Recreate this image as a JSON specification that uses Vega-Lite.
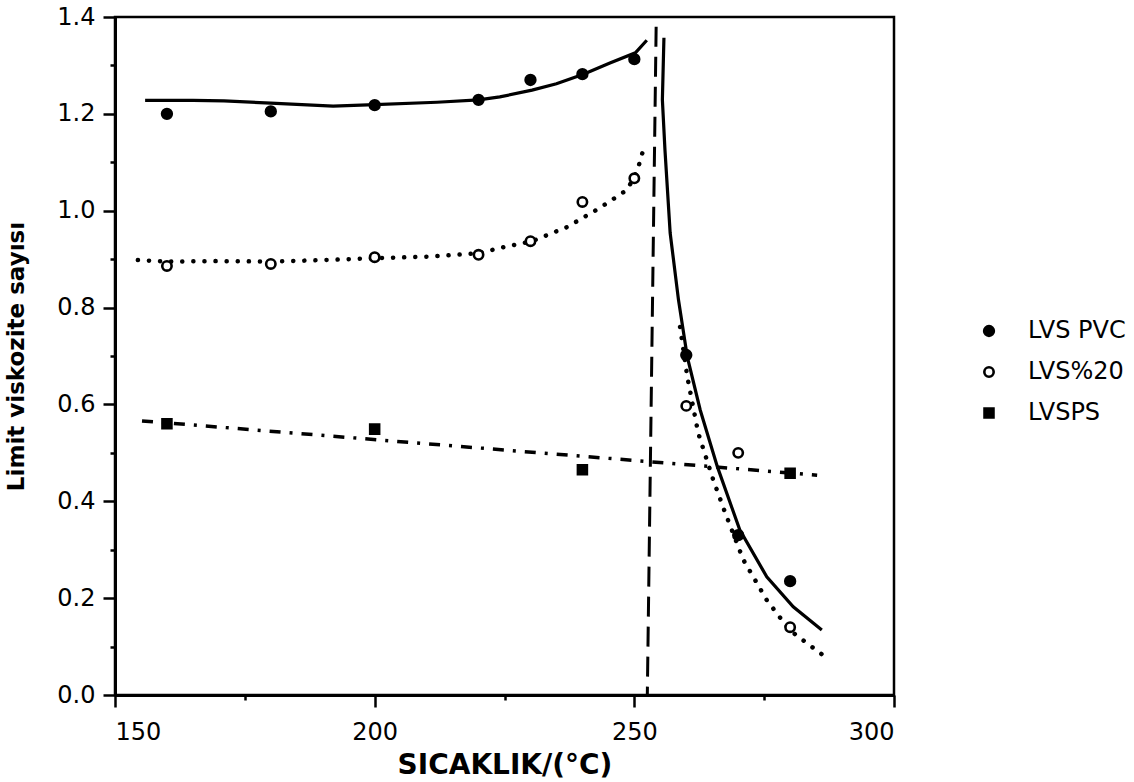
{
  "$schema": "https://vega.github.io/schema/vega-lite/v6.json",
  "width": 779,
  "height": 678,
  "autosize": {"type": "none"},
  "padding": {"left": 115, "top": 17, "right": 240, "bottom": 87},
  "background": "white",
  "config": {
    "font": "DejaVu Sans",
    "view": {"stroke": "black", "strokeWidth": 2.5},
    "axis": {
      "grid": false,
      "domainColor": "black",
      "domainWidth": 3,
      "tickColor": "black",
      "tickWidth": 2.5,
      "labelColor": "black",
      "titleColor": "black",
      "labelFont": "DejaVu Sans",
      "titleFont": "DejaVu Sans"
    }
  },
  "datasets": {
    "pts": [
      {"series": "LVS PVC", "x": 160, "y": 1.200},
      {"series": "LVS PVC", "x": 180, "y": 1.205},
      {"series": "LVS PVC", "x": 200, "y": 1.218},
      {"series": "LVS PVC", "x": 220, "y": 1.229},
      {"series": "LVS PVC", "x": 230, "y": 1.270},
      {"series": "LVS PVC", "x": 240, "y": 1.282},
      {"series": "LVS PVC", "x": 250, "y": 1.313},
      {"series": "LVS PVC", "x": 260, "y": 0.702},
      {"series": "LVS PVC", "x": 270, "y": 0.330},
      {"series": "LVS PVC", "x": 280, "y": 0.235},
      {"series": "LVS%20", "x": 160, "y": 0.886},
      {"series": "LVS%20", "x": 180, "y": 0.890},
      {"series": "LVS%20", "x": 200, "y": 0.904},
      {"series": "LVS%20", "x": 220, "y": 0.909},
      {"series": "LVS%20", "x": 230, "y": 0.937},
      {"series": "LVS%20", "x": 240, "y": 1.018},
      {"series": "LVS%20", "x": 250, "y": 1.067},
      {"series": "LVS%20", "x": 260, "y": 0.597},
      {"series": "LVS%20", "x": 270, "y": 0.500},
      {"series": "LVS%20", "x": 280, "y": 0.140},
      {"series": "LVSPS", "x": 160, "y": 0.560},
      {"series": "LVSPS", "x": 200, "y": 0.549},
      {"series": "LVSPS", "x": 240, "y": 0.465},
      {"series": "LVSPS", "x": 280, "y": 0.458}
    ],
    "curves": [
      {"series": "PVC", "seg": 1, "ord": 1, "x": 155.8, "y": 1.228},
      {"series": "PVC", "seg": 1, "ord": 2, "x": 165, "y": 1.228},
      {"series": "PVC", "seg": 1, "ord": 3, "x": 171, "y": 1.227},
      {"series": "PVC", "seg": 1, "ord": 4, "x": 180, "y": 1.222},
      {"series": "PVC", "seg": 1, "ord": 5, "x": 192, "y": 1.216},
      {"series": "PVC", "seg": 1, "ord": 6, "x": 200, "y": 1.219},
      {"series": "PVC", "seg": 1, "ord": 7, "x": 212, "y": 1.224},
      {"series": "PVC", "seg": 1, "ord": 8, "x": 220, "y": 1.229},
      {"series": "PVC", "seg": 1, "ord": 9, "x": 224.1, "y": 1.235},
      {"series": "PVC", "seg": 1, "ord": 10, "x": 230.3, "y": 1.249},
      {"series": "PVC", "seg": 1, "ord": 11, "x": 235, "y": 1.262},
      {"series": "PVC", "seg": 1, "ord": 12, "x": 240.2, "y": 1.282},
      {"series": "PVC", "seg": 1, "ord": 13, "x": 245.3, "y": 1.305},
      {"series": "PVC", "seg": 1, "ord": 14, "x": 250.2, "y": 1.326},
      {"series": "PVC", "seg": 1, "ord": 15, "x": 252.4, "y": 1.352},
      {"series": "PVC", "seg": 2, "ord": 1, "x": 255.7, "y": 1.357},
      {"series": "PVC", "seg": 2, "ord": 2, "x": 255.4, "y": 1.229},
      {"series": "PVC", "seg": 2, "ord": 3, "x": 255.9, "y": 1.125},
      {"series": "PVC", "seg": 2, "ord": 4, "x": 256.9, "y": 0.954},
      {"series": "PVC", "seg": 2, "ord": 5, "x": 258.5, "y": 0.816},
      {"series": "PVC", "seg": 2, "ord": 6, "x": 260.2, "y": 0.698},
      {"series": "PVC", "seg": 2, "ord": 7, "x": 262.7, "y": 0.588},
      {"series": "PVC", "seg": 2, "ord": 8, "x": 266.0, "y": 0.471},
      {"series": "PVC", "seg": 2, "ord": 9, "x": 270.3, "y": 0.341},
      {"series": "PVC", "seg": 2, "ord": 10, "x": 275.5, "y": 0.244},
      {"series": "PVC", "seg": 2, "ord": 11, "x": 280.6, "y": 0.182},
      {"series": "PVC", "seg": 2, "ord": 12, "x": 286.1, "y": 0.134},
      {"series": "P20", "seg": 1, "ord": 1, "x": 154.4, "y": 0.898},
      {"series": "P20", "seg": 1, "ord": 2, "x": 160, "y": 0.895},
      {"series": "P20", "seg": 1, "ord": 3, "x": 170, "y": 0.896},
      {"series": "P20", "seg": 1, "ord": 4, "x": 180, "y": 0.895},
      {"series": "P20", "seg": 1, "ord": 5, "x": 190, "y": 0.898},
      {"series": "P20", "seg": 1, "ord": 6, "x": 200, "y": 0.902},
      {"series": "P20", "seg": 1, "ord": 7, "x": 210, "y": 0.905},
      {"series": "P20", "seg": 1, "ord": 8, "x": 220, "y": 0.912},
      {"series": "P20", "seg": 1, "ord": 9, "x": 224.1, "y": 0.923},
      {"series": "P20", "seg": 1, "ord": 10, "x": 230.3, "y": 0.937},
      {"series": "P20", "seg": 1, "ord": 11, "x": 237, "y": 0.966},
      {"series": "P20", "seg": 1, "ord": 12, "x": 243.4, "y": 1.006},
      {"series": "P20", "seg": 1, "ord": 13, "x": 248.6, "y": 1.043},
      {"series": "P20", "seg": 1, "ord": 14, "x": 250.5, "y": 1.080},
      {"series": "P20", "seg": 1, "ord": 15, "x": 251.7, "y": 1.125},
      {"series": "P20", "seg": 2, "ord": 1, "x": 258.8, "y": 0.760},
      {"series": "P20", "seg": 2, "ord": 2, "x": 260.2, "y": 0.657},
      {"series": "P20", "seg": 2, "ord": 3, "x": 262.3, "y": 0.541},
      {"series": "P20", "seg": 2, "ord": 4, "x": 265.2, "y": 0.444},
      {"series": "P20", "seg": 2, "ord": 5, "x": 267.5, "y": 0.376},
      {"series": "P20", "seg": 2, "ord": 6, "x": 271.0, "y": 0.279},
      {"series": "P20", "seg": 2, "ord": 7, "x": 275.5, "y": 0.196},
      {"series": "P20", "seg": 2, "ord": 8, "x": 279.9, "y": 0.134},
      {"series": "P20", "seg": 2, "ord": 9, "x": 287.1, "y": 0.076},
      {"series": "PS", "seg": 1, "ord": 1, "x": 155.2, "y": 0.566},
      {"series": "PS", "seg": 1, "ord": 2, "x": 285.2, "y": 0.454},
      {"series": "VL", "seg": 1, "ord": 1, "x": 254.2, "y": 1.38},
      {"series": "VL", "seg": 1, "ord": 2, "x": 252.5, "y": 0.0}
    ]
  },
  "layer": [
    {
      "data": {"name": "curves"},
      "transform": [{"filter": "datum.series === 'VL'"}],
      "mark": {"type": "line", "color": "black", "strokeWidth": 3, "strokeDash": [20, 10]},
      "encoding": {
        "x": {"field": "x", "type": "quantitative", "scale": {"domain": [150, 300], "nice": false},
          "axis": {"values": [175, 225, 275], "labels": false, "domain": false, "tickSize": 5, "title": null, "orient": "bottom"}},
        "y": {"field": "y", "type": "quantitative", "scale": {"domain": [0, 1.4], "nice": false},
          "axis": {"values": [0.1, 0.3, 0.5, 0.7, 0.9, 1.1, 1.3], "labels": false, "domain": false, "tickSize": 5, "title": null, "orient": "left"}},
        "order": {"field": "ord"}
      }
    },
    {
      "data": {"name": "curves"},
      "transform": [{"filter": "datum.series === 'PVC'"}],
      "mark": {"type": "line", "color": "black", "strokeWidth": 3.2},
      "encoding": {
        "x": {"field": "x", "type": "quantitative", "scale": {"domain": [150, 300], "nice": false}, "axis": null},
        "y": {"field": "y", "type": "quantitative", "scale": {"domain": [0, 1.4], "nice": false}, "axis": null},
        "detail": {"field": "seg"},
        "order": {"field": "ord"}
      }
    },
    {
      "data": {"name": "curves"},
      "transform": [{"filter": "datum.series === 'P20'"}],
      "mark": {"type": "line", "color": "black", "strokeWidth": 4.5, "strokeCap": "round", "strokeDash": [0.1, 11]},
      "encoding": {
        "x": {"field": "x", "type": "quantitative", "scale": {"domain": [150, 300], "nice": false}, "axis": null},
        "y": {"field": "y", "type": "quantitative", "scale": {"domain": [0, 1.4], "nice": false}, "axis": null},
        "detail": {"field": "seg"},
        "order": {"field": "ord"}
      }
    },
    {
      "data": {"name": "curves"},
      "transform": [{"filter": "datum.series === 'PS'"}],
      "mark": {"type": "line", "color": "black", "strokeWidth": 3.5, "strokeDash": [11, 9, 3, 9]},
      "encoding": {
        "x": {"field": "x", "type": "quantitative", "scale": {"domain": [150, 300], "nice": false}, "axis": null},
        "y": {"field": "y", "type": "quantitative", "scale": {"domain": [0, 1.4], "nice": false}, "axis": null},
        "order": {"field": "ord"}
      }
    },
    {
      "data": {"name": "pts"},
      "mark": {"type": "point", "filled": false, "stroke": "black", "strokeWidth": 2.6, "opacity": 1},
      "encoding": {
        "x": {"field": "x", "type": "quantitative", "scale": {"domain": [150, 300], "nice": false},
          "axis": {"values": [150, 200, 250, 300], "tickSize": 12, "labelFontSize": 24, "labelPadding": 13,
            "title": "SICAKLIK/(°C)", "titleFontSize": 28, "titleFontWeight": "bold", "titlePadding": 7, "orient": "bottom"}},
        "y": {"field": "y", "type": "quantitative", "scale": {"domain": [0, 1.4], "nice": false},
          "axis": {"values": [0, 0.2, 0.4, 0.6, 0.8, 1.0, 1.2, 1.4], "format": ".1f", "tickSize": 12, "labelFontSize": 24, "labelPadding": 8,
            "title": "Limit viskozite sayısı", "titleFontSize": 23, "titleFontWeight": "bold", "titlePadding": 28, "orient": "left"}},
        "shape": {"field": "series", "type": "nominal",
          "scale": {"domain": ["LVS PVC", "LVS%20", "LVSPS"], "range": ["circle", "circle", "square"]},
          "legend": {"title": null, "orient": "none", "legendX": 862, "legendY": 302, "padding": 0,
            "rowPadding": 17, "labelOffset": 27, "labelFontSize": 24, "labelFont": "DejaVu Sans", "labelColor": "black",
            "symbolStrokeWidth": 2.6, "symbolStrokeColor": "black"}},
        "fill": {"field": "series", "type": "nominal",
          "scale": {"domain": ["LVS PVC", "LVS%20", "LVSPS"], "range": ["black", "white", "black"]}},
        "size": {"field": "series", "type": "nominal",
          "scale": {"domain": ["LVS PVC", "LVS%20", "LVSPS"], "range": [95, 80, 115]}}
      }
    }
  ],
  "resolve": {"axis": {"x": "independent", "y": "independent"}}
}
